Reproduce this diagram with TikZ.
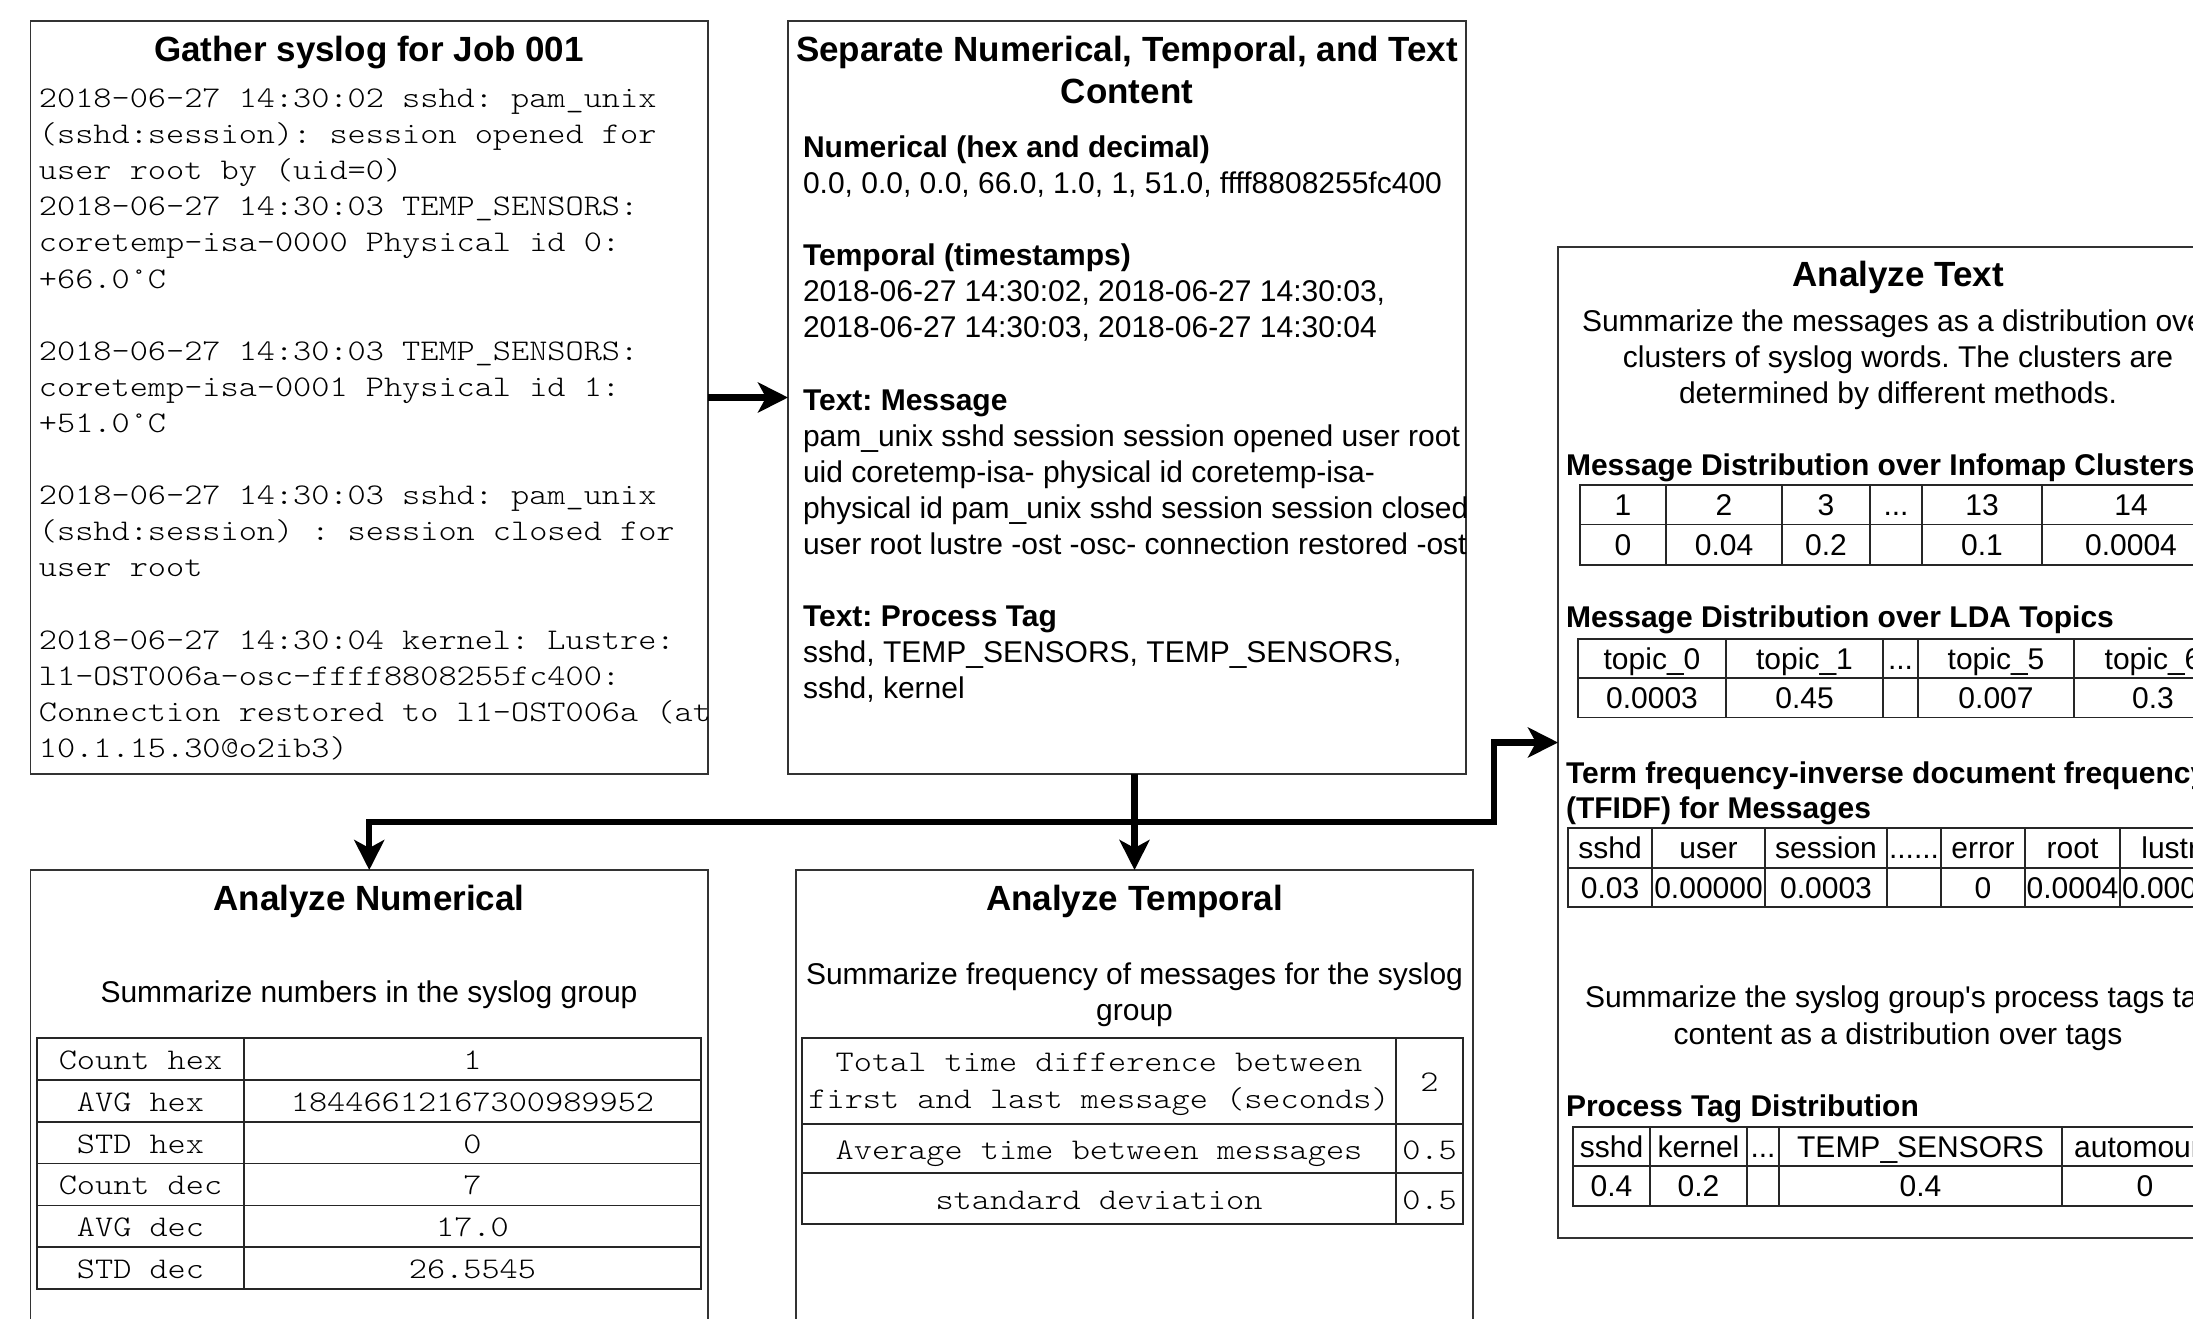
\documentclass[tikz,border=0pt]{standalone}
\usepackage{fontspec}
\setmainfont{Liberation Sans}
\newfontfamily\monof[FakeStretch=1.153]{Latin Modern Mono Light}
\usetikzlibrary{arrows.meta}
\frenchspacing
\newcommand\tdots{.{}.{}.}
\newcommand\sdots{.{}.{}.{}.{}.{}.}
\tikzset{
  box/.style={draw=black!80, line width=0.75pt, inner sep=0pt, outer sep=0pt},
  tbl/.style={draw=black!85, line width=0.9pt},
  conn/.style={line width=3.2pt, -{Stealth[length=15pt,width=15pt,inset=4pt]}},
  txt/.style={inner sep=0pt, outer sep=0pt, font=\fontsize{15pt}{18pt}\selectfont, text height=10.5pt, text depth=0pt},
  bld/.style={inner sep=0pt, outer sep=0pt, font=\bfseries\fontsize{15pt}{18pt}\selectfont, text height=10.5pt, text depth=0pt},
  ttl/.style={inner sep=0pt, outer sep=0pt, font=\bfseries\fontsize{17.5pt}{21pt}\selectfont, text height=12.25pt, text depth=0pt},
  mono/.style={inner sep=0pt, outer sep=0pt, font=\monof\fontsize{15pt}{18pt}\selectfont, text height=10.5pt, text depth=0pt},
}
\begin{document}
\begin{tikzpicture}[x=0.5pt,y=-0.5pt]
\useasboundingbox (0,0) rectangle (2193,1318);
\fill[white] (0,0) rectangle (2193,1318);
\clip (0,0) rectangle (2193,1318);

% ---------- boxes ----------
\node[box, minimum width=338.75pt, minimum height=376.5pt] (gather) at (369.25,397.5) {};
\node[box, minimum width=339pt, minimum height=376.5pt] (sep) at (1127,397.5) {};
\node[box, minimum width=340pt, minimum height=495.5pt] (atext) at (1898,742.5) {};
\node[box, minimum width=338.75pt, minimum height=265pt] (num) at (369.25,1135) {};
\node[box, minimum width=338.5pt, minimum height=265pt] (temp) at (1134.5,1135) {};

% ---------- Gather ----------
\node[ttl] (gt) at (369,49) {Gather syslog for Job 001};
\foreach \k/\s [count=\i] in {
 0/{2018-06-27 14:30:02 sshd: pam\_unix},
 1/{(sshd:session): session opened for},
 2/{user root by (uid=0)},
 3/{2018-06-27 14:30:03 TEMP\_SENSORS:},
 4/{coretemp-isa-0000 Physical id 0:},
 5/{+66.0°C},
 7/{2018-06-27 14:30:03 TEMP\_SENSORS:},
 8/{coretemp-isa-0001 Physical id 1:},
 9/{+51.0°C},
 11/{2018-06-27 14:30:03 sshd: pam\_unix},
 12/{(sshd:session) : session closed for},
 13/{user root},
 15/{2018-06-27 14:30:04 kernel: Lustre:},
 16/{l1-OST006a-osc-ffff8808255fc400:},
 17/{Connection restored to l1-OST006a (at},
 18/{10.1.15.30@o2ib3)}}
 \node[mono, anchor=west] (g\i) at (39,{97+36.1*\k}) {\s};

% ---------- Separate ----------
\node[ttl] (st1) at (1127,49.5) {Separate Numerical, Temporal, and Text};
\node[ttl] (st2) at (1127,91) {Content};
\node[bld, anchor=west] (sh1) at (803,147) {Numerical (hex and decimal)};
\node[txt, anchor=west] (sl1) at (803,182.5) {0.0, 0.0, 0.0, 66.0, 1.0, 1, 51.0, ffff8808255fc400};
\node[bld, anchor=west] (sh2) at (803,255) {Temporal (timestamps)};
\node[txt, anchor=west] (sl2) at (803,291) {2018-06-27 14:30:02, 2018-06-27 14:30:03,};
\node[txt, anchor=west] (sl3) at (803,327) {2018-06-27 14:30:03, 2018-06-27 14:30:04};
\node[bld, anchor=west] (sh3) at (803,400) {Text: Message};
\node[txt, anchor=west] (sl4) at (803,436) {pam\_unix sshd session session opened user root};
\node[txt, anchor=west] (sl5) at (803,472) {uid coretemp-isa- physical id coretemp-isa-};
\node[txt, anchor=west] (sl6) at (803,507.5) {physical id pam\_unix sshd session session closed};
\node[txt, anchor=west] (sl7) at (803,543.5) {user root lustre -ost -osc- connection restored -ost};
\node[bld, anchor=west] (sh4) at (803,616) {Text: Process Tag};
\node[txt, anchor=west] (sl8) at (803,652) {sshd, TEMP\_SENSORS, TEMP\_SENSORS,};
\node[txt, anchor=west] (sl9) at (803,688) {sshd, kernel};

% ---------- Analyze Text ----------
\node[ttl] (att) at (1898,274) {Analyze Text};
\node[txt] (as1) at (1898,321) {Summarize the messages as a distribution over};
\node[txt] (as2) at (1898,357) {clusters of syslog words. The clusters are};
\node[txt] (as3) at (1898,393) {determined by different methods.};
\node[bld, anchor=west] (ah1) at (1566,464.5) {Message Distribution over Infomap Clusters};
% table 1
\draw[tbl] (1580,485) rectangle (2220,565);
\draw[tbl] (1580,524.5) -- (2220,524.5);
\foreach \x in {1666,1782,1870,1922,2042} \draw[tbl] (\x,485) -- (\x,565);
\foreach \x/\l [count=\i] in {1623/1,1724/2,1826/3,1896/\tdots,1982/13,2131/14}
  \node[txt] (ia\i) at (\x,504.75) {\l};
\foreach \x/\l [count=\i] in {1623/0,1724/0.04,1826/0.2,1982/0.1,2131/0.0004}
  \node[txt] (ib\i) at (\x,544.75) {\l};

\node[bld, anchor=west] (ah2) at (1566,617) {Message Distribution over LDA Topics};
% table 2
\draw[tbl] (1578,639) rectangle (2232,717.5);
\draw[tbl] (1578,678) -- (2232,678);
\foreach \x in {1726,1883,1918,2074} \draw[tbl] (\x,639) -- (\x,717.5);
\foreach \x/\l [count=\i] in {1652/topic\_0,1804.5/topic\_1,1900.5/\tdots,1996/topic\_5,2153/topic\_6}
  \node[txt] (la\i) at (\x,658.5) {\l};
\foreach \x/\l [count=\i] in {1652/0.0003,1804.5/0.45,1996/0.007,2153/0.3}
  \node[txt] (lb\i) at (\x,697.75) {\l};

\node[bld, anchor=west] (ah3) at (1566,773) {Term frequency-inverse document frequency};
\node[bld, anchor=west] (ah4) at (1566,808) {(TFIDF) for Messages};
% table 3
\draw[tbl] (1568,828) rectangle (2236,907);
\draw[tbl] (1568,868) -- (2236,868);
\foreach \x in {1652,1765,1887,1941,2025,2120} \draw[tbl] (\x,828) -- (\x,907);
\foreach \x/\l [count=\i] in {1610/sshd,1708.5/user,1826/session,1914/\sdots,1983/error,2072.5/root,2178/lustre}
  \node[txt] (fa\i) at (\x,848) {\l};
\foreach \x/\l [count=\i] in {1610/0.03,1708.5/0.00000,1826/0.0003,1983/0,2072.5/0.0004}
  \node[txt] (fb\i) at (\x,887.5) {\l};
\node[txt, anchor=west] (fb6) at (2122,887.5) {0.000};

\node[txt, anchor=west] (ps1) at (1585,997) {Summarize the syslog group\textquotesingle s process tags ta};
\node[txt] (ps2) at (1898,1034) {content as a distribution over tags};
\node[bld, anchor=west] (ah5) at (1566,1106) {Process Tag Distribution};
% table 4
\draw[tbl] (1573,1127) rectangle (2228,1206);
\draw[tbl] (1573,1166) -- (2228,1166);
\foreach \x in {1650,1747,1779,2062} \draw[tbl] (\x,1127) -- (\x,1206);
\foreach \x/\l [count=\i] in {1611.5/sshd,1698.5/kernel,1763/\tdots,1920.5/TEMP\_SENSORS,2145/automount}
  \node[txt] (pa\i) at (\x,1146.5) {\l};
\foreach \x/\l [count=\i] in {1611.5/0.4,1698.5/0.2,1920.5/0.4,2145/0}
  \node[txt] (pb\i) at (\x,1186) {\l};

% ---------- Analyze Numerical ----------
\node[ttl] (nt) at (369,898) {Analyze Numerical};
\node[txt] (ns) at (369,991.5) {Summarize numbers in the syslog group};
\draw[tbl] (37,1038) rectangle (701,1289.1);
\foreach \k in {1,2,3,4,5} \draw[tbl] (37,{1038+41.85*\k}) -- (701,{1038+41.85*\k});
\draw[tbl] (244,1038) -- (244,1289.1);
\foreach \a/\b [count=\i from 0] in {Count hex/1,AVG hex/18446612167300989952,STD hex/0,Count dec/7,AVG dec/17.0,STD dec/26.5545}{
  \node[mono] (na\i) at (140.5,{1058.9+41.85*\i}) {\a};
  \node[mono] (nb\i) at (472.5,{1058.9+41.85*\i}) {\b};
}

% ---------- Analyze Temporal ----------
\node[ttl] (tt) at (1134.5,898) {Analyze Temporal};
\node[txt] (ts1) at (1134.5,974) {Summarize frequency of messages for the syslog};
\node[txt] (ts2) at (1134.5,1010) {group};
\draw[tbl] (802,1038) rectangle (1463,1224);
\draw[tbl] (802,1124) -- (1463,1124);
\draw[tbl] (802,1173) -- (1463,1173);
\draw[tbl] (1396,1038) -- (1396,1224);
\node[mono] (tr1) at (1099,1061) {Total time difference between};
\node[mono] (tr2) at (1099,1098) {first and last message (seconds)};
\node[mono] (tv1) at (1429.5,1081) {2};
\node[mono] (tr3) at (1099,1149) {Average time between messages};
\node[mono] (tv2) at (1429.5,1149) {0.5};
\node[mono] (tr4) at (1099,1199) {standard deviation};
\node[mono] (tv3) at (1429.5,1199) {0.5};

% ---------- connectors ----------
\coordinate (jn) at (1134.5,822);
\coordinate (jr) at (1494,822);
\draw[conn] (gather.east) -- (sep.west);
\draw[conn] (temp.north |- sep.south) -- (temp.north);
\draw[conn] (jn) -| (num.north);
\draw[conn] (jn) -- (jr) |- (atext.west);
\end{tikzpicture}
\end{document}
